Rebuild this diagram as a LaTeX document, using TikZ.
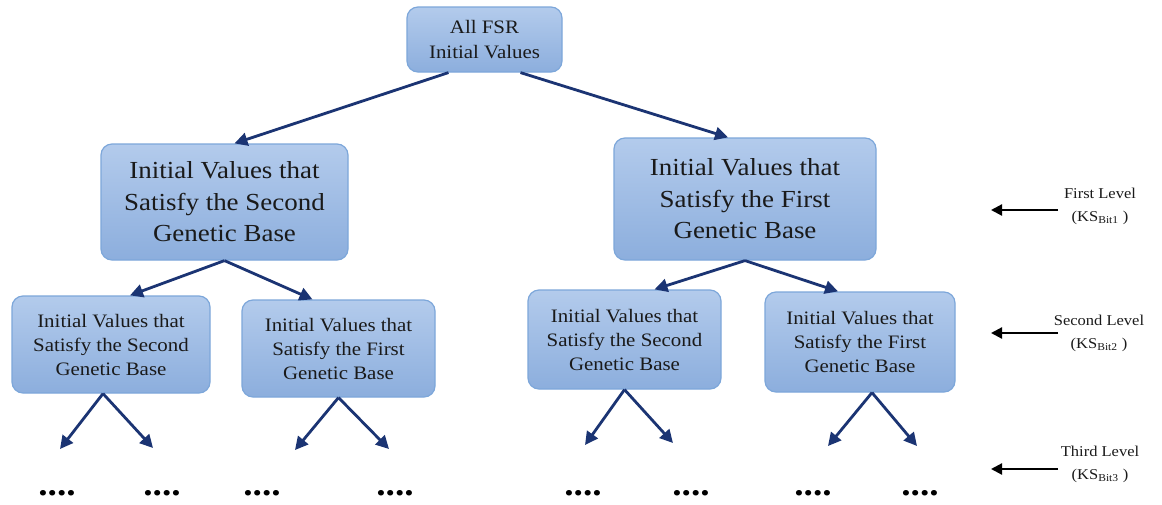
\documentclass[tikz,border=0pt]{standalone}
\usepackage{fontspec}
\setmainfont{Liberation Serif}[FakeStretch=1.1]
\usetikzlibrary{arrows.meta,calc}
\definecolor{boxtop}{HTML}{B3CBEC}
\definecolor{boxbot}{HTML}{8CAEDD}
\definecolor{boxline}{HTML}{7DA7DA}
\definecolor{navy}{HTML}{1B3473}
\definecolor{txt}{HTML}{1A1A1A}
\tikzset{
  bx/.style={draw=boxline, line width=1.2pt, rounded corners=11pt, top color=boxtop, bottom color=boxbot, align=center, text=txt, inner sep=2pt},
  bigbox/.style={bx, font=\fontsize{24.5}{31.5}\selectfont},
  smallbox/.style={bx, font=\fontsize{19}{24}\selectfont},
  topbox/.style={bx, font=\fontsize{19}{25}\selectfont},
  tree/.style={navy, line width=2.8pt, -{Triangle[length=13pt,width=13pt]}},
  lvl/.style={black, line width=2.2pt, -{Triangle[length=11pt,width=11pt]}},
  lvltxt/.style={align=center, text=txt, font=\fontsize{15}{23}\selectfont},
  dots/.style={font=\fontsize{34}{34}\selectfont\bfseries, text=black, anchor=base, inner sep=0pt}
}
\begin{document}
\begin{tikzpicture}[x=1pt,y=-1pt]
\useasboundingbox (0,0) rectangle (1162,504);
\fill[white] (0,0) rectangle (1162,504);

\node[topbox, minimum width=155pt, minimum height=65pt] (top) at (484.5,39.5) {All FSR\\Initial Values};

\node[bigbox, minimum width=247pt, minimum height=116pt] (l1) at (224.5,202) {Initial Values that\\Satisfy the Second\\Genetic Base};
\node[bigbox, minimum width=262pt, minimum height=122pt] (r1) at (745,199) {Initial Values that\\Satisfy the First\\Genetic Base};

\node[smallbox, minimum width=198pt, minimum height=97pt] (b1) at (111,344.5) {Initial Values that\\Satisfy the Second\\Genetic Base};
\node[smallbox, minimum width=193pt, minimum height=97pt] (b2) at (338.5,348.5) {Initial Values that\\Satisfy the First\\Genetic Base};
\node[smallbox, minimum width=193pt, minimum height=99pt] (b3) at (624.5,339.5) {Initial Values that\\Satisfy the Second\\Genetic Base};
\node[smallbox, minimum width=190pt, minimum height=100pt] (b4) at (860,342) {Initial Values that\\Satisfy the First\\Genetic Base};

\draw[tree] ([xshift=-36pt]top.south) -- ([xshift=10pt]l1.north);
\draw[tree] ([xshift=36pt]top.south) -- ([xshift=-17pt]r1.north);
\draw[tree] (l1.south) -- ([xshift=19pt]b1.north);
\draw[tree] (l1.south) -- ([xshift=-26pt]b2.north);
\draw[tree] (r1.south) -- ([xshift=30pt]b3.north);
\draw[tree] (r1.south) -- ([xshift=-22pt]b4.north);

\coordinate (e1) at (60,449);
\coordinate (e2) at (153,448);
\coordinate (e3) at (295,450);
\coordinate (e4) at (389,449);
\coordinate (e5) at (585,445);
\coordinate (e6) at (673,443);
\coordinate (e7) at (828,446);
\coordinate (e8) at (917,446);
\draw[tree] ([xshift=-8pt]b1.south) -- (e1);
\draw[tree] ([xshift=-8pt]b1.south) -- (e2);
\draw[tree] (b2.south) -- (e3);
\draw[tree] (b2.south) -- (e4);
\draw[tree] (b3.south) -- (e5);
\draw[tree] (b3.south) -- (e6);
\draw[tree] ([xshift=12pt]b4.south) -- (e7);
\draw[tree] ([xshift=12pt]b4.south) -- (e8);

\foreach \n/\x in {d1/57,d2/162,d3/262,d4/395,d5/583,d6/691,d7/813,d8/920}{
  \node[dots] (\n) at (\x,495) {....};
}

\node[lvltxt] (t1) at (1100,206) {First Level\\(KS\textsubscript{Bit1} )};
\node[lvltxt] (t2) at (1099,333) {Second Level\\(KS\textsubscript{Bit2} )};
\node[lvltxt] (t3) at (1100,464) {Third Level\\(KS\textsubscript{Bit3} )};
\coordinate (s1) at (1058,210); \coordinate (f1) at (991,210);
\coordinate (s2) at (1058,333); \coordinate (f2) at (991,333);
\coordinate (s3) at (1058,469); \coordinate (f3) at (991,469);
\draw[lvl] (s1) -- (f1);
\draw[lvl] (s2) -- (f2);
\draw[lvl] (s3) -- (f3);
\end{tikzpicture}
\end{document}
